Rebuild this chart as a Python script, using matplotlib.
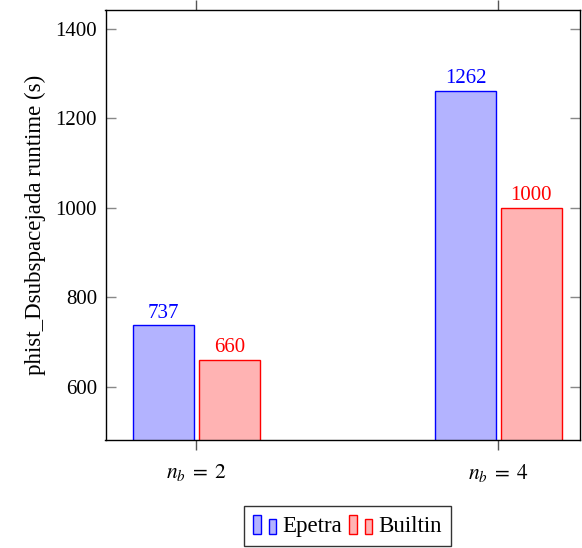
import matplotlib
matplotlib.use("Agg")
import matplotlib.pyplot as plt
from matplotlib.patches import Rectangle
from matplotlib.legend_handler import HandlerBase
import numpy as np

plt.rcParams['font.family'] = ['Liberation Serif', 'DejaVu Serif']
plt.rcParams['mathtext.fontset'] = 'stix'

categories = [r"$n_b \;=\; 2$", r"$n_b \;=\; 4$"]
epetra = [737, 1262]
builtin = [660, 1000]
series_names = ["Epetra", "Builtin"]
yticks = [600, 800, 1000, 1200, 1400]

fill_colors = ["#b3b3ff", "#ffb3b3"]
edge_colors = ["#0000ff", "#ff0000"]

FS = 15

W, H = 582, 548
fig = plt.figure(figsize=(W / 100, H / 100), dpi=100)
ax = fig.add_axes([105.5 / W, 1 - 440 / H, (580 - 105.5) / W, (440 - 10) / H])

x = np.arange(len(categories))
width = 0.2
offset = 0.109
for vals, dx, fc, ec in [(epetra, -offset, fill_colors[0], edge_colors[0]),
                         (builtin, offset, fill_colors[1], edge_colors[1])]:
    bars = ax.bar(x + dx, vals, width, bottom=0, color=fc, edgecolor=ec, linewidth=1.0, zorder=2)
    for b, v in zip(bars, vals):
        ax.annotate(f"{v}", (b.get_x() + b.get_width() / 2, v), xytext=(0, 2),
                    textcoords="offset points", ha="center", va="bottom",
                    color=ec, fontsize=FS)

ax.set_xlim(-0.301, 1.27)
ax.set_ylim(481, 1442)
ax.set_xticks(x)
ax.set_xticklabels(categories, fontsize=FS + 0.5)
ax.set_yticks(yticks)
ax.tick_params(axis='y', direction='in', length=7, color='#888888', width=1.0,
               right=True, labelsize=FS, pad=6)
ax.tick_params(axis='x', direction='out', length=7, color='#555555', width=1.0,
               top=True, pad=9)
for s in ax.spines.values():
    s.set_linewidth(1.0)
    s.set_color('black')
ax.set_ylabel("phist_Dsubspacejada runtime (s)", fontsize=16.5, labelpad=7)


class TwoBarHandler(HandlerBase):
    def __init__(self, fc, ec):
        super().__init__()
        self.fc = fc
        self.ec = ec

    def create_artists(self, legend, orig_handle, xdescent, ydescent,
                       width, height, fontsize, trans):
        bw = width * 0.31
        r1 = Rectangle((-xdescent, -ydescent - 2), bw, height + 2.5,
                       facecolor=self.fc, edgecolor=self.ec, lw=1.0, transform=trans)
        r2 = Rectangle((-xdescent + width * 0.66, -ydescent - 2), bw, height - 0.5,
                       facecolor=self.fc, edgecolor=self.ec, lw=1.0, transform=trans)
        return [r1, r2]


h1 = Rectangle((0, 0), 1, 1)
h2 = Rectangle((0, 0), 1, 1)
leg = fig.legend([h1, h2], series_names,
                 handler_map={h1: TwoBarHandler(fill_colors[0], edge_colors[0]),
                              h2: TwoBarHandler(fill_colors[1], edge_colors[1])},
                 loc='center', bbox_to_anchor=(347.5 / W, 1 - 526 / H),
                 ncol=2, fontsize=16.5, frameon=True, fancybox=False,
                 handlelength=1.05, handletextpad=0.23, columnspacing=0.3,
                 borderpad=0.4, borderaxespad=0)
leg.get_frame().set_edgecolor('black')
leg.get_frame().set_linewidth(1.0)

fig.savefig("out.png", dpi=100)
